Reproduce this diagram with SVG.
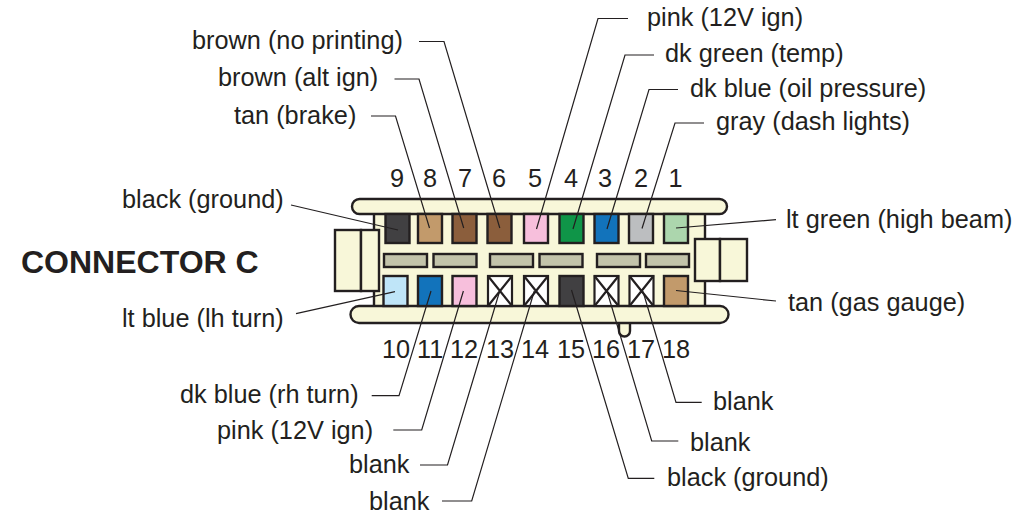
<svg xmlns="http://www.w3.org/2000/svg" width="1016" height="516" viewBox="0 0 1016 516">
<style>
text{font-family:"Liberation Sans",Arial,sans-serif;font-size:25.3px;fill:#231f20}
.b{fill:#f8f7d9;stroke:#231f20;stroke-width:2.4}
.p{stroke:#231f20;stroke-width:2.4}
.m{fill:#c2c3aa;stroke:#231f20;stroke-width:2.4}
.x{fill:#fff;stroke:#231f20;stroke-width:2.2}
#connectors path{fill:none;stroke:#231f20;stroke-width:1.2}
</style>
<rect width="1016" height="516" fill="#fff"/>
<g id="connector-body">
<path class="b" d="M619 320V331a5.500 5.500 0 0 0 11 0V320Z"/>
<rect class="b" x="374" y="212" width="331" height="96"/>
<rect class="b" x="335" y="230" width="26" height="61"/>
<rect class="b" x="361" y="230" width="18" height="61"/>
<rect class="b" x="695" y="239" width="25" height="42"/>
<rect class="b" x="720" y="239" width="27" height="42"/>
<rect class="b" x="352" y="199" width="375" height="15" rx="7.500"/>
<rect class="b" x="350.500" y="306" width="378" height="17" rx="8.500"/>
<rect class="m" x="384" y="254" width="43" height="13"/>
<rect class="m" x="433.500" y="254" width="43" height="13"/>
<rect class="m" x="490" y="254" width="43" height="13"/>
<rect class="m" x="539.500" y="254" width="43" height="13"/>
<rect class="m" x="597" y="254" width="43" height="13"/>
<rect class="m" x="646" y="254" width="43" height="13"/>
</g>
<g id="pins-top">
<rect id="pin9" class="p" fill="#414042" x="385.500" y="214" width="24" height="29"/>
<rect id="pin8" class="p" fill="#c29a6b" x="418" y="214" width="24" height="29"/>
<rect id="pin7" class="p" fill="#8b5e3c" x="452.500" y="214" width="24" height="29"/>
<rect id="pin6" class="p" fill="#8b5e3c" x="487.500" y="214" width="24" height="29"/>
<rect id="pin5" class="p" fill="#f7bfdc" x="524" y="214" width="24" height="29"/>
<rect id="pin4" class="p" fill="#0f9548" x="559.500" y="214" width="24" height="29"/>
<rect id="pin3" class="p" fill="#1273bb" x="594.500" y="214" width="24" height="29"/>
<rect id="pin2" class="p" fill="#bcbec0" x="629" y="214" width="24" height="29"/>
<rect id="pin1" class="p" fill="#acd6ad" x="664" y="214" width="24" height="29"/>
</g>
<g id="pins-bottom">
<rect id="pin10" class="p" fill="#bfe5f8" x="383.500" y="276" width="24" height="30"/>
<rect id="pin11" class="p" fill="#1273bb" x="418" y="276" width="24" height="30"/>
<rect id="pin12" class="p" fill="#f7bfdc" x="452.500" y="276" width="24" height="30"/>
<g id="pin13"><rect class="x" x="488" y="276" width="24" height="30"/><path class="x" d="M488 276L512 306M512 276L488 306"/></g>
<g id="pin14"><rect class="x" x="524" y="276" width="24" height="30"/><path class="x" d="M524 276L548 306M548 276L524 306"/></g>
<rect id="pin15" class="p" fill="#414042" x="559.500" y="276" width="24" height="30"/>
<g id="pin16"><rect class="x" x="594.500" y="276" width="24" height="30"/><path class="x" d="M594.500 276L618.500 306M618.500 276L594.500 306"/></g>
<g id="pin17"><rect class="x" x="629.500" y="276" width="24" height="30"/><path class="x" d="M629.500 276L653.500 306M653.500 276L629.500 306"/></g>
<rect id="pin18" class="p" fill="#c29a6b" x="664" y="276" width="24" height="30"/>
</g>
<g id="connectors">
<path d="M419 41.500H444L499.800 228"/>
<path d="M394.500 79H419L463.700 228"/>
<path d="M371 116H395.500L429.500 228"/>
<path d="M291 205L398 230"/>
<path d="M628 18.500H598L536.500 229"/>
<path d="M654 55H625L573 229"/>
<path d="M678 89.500H649L607 229"/>
<path d="M704 123H675L642 228.500"/>
<path d="M776 219.700L676 228"/>
<path d="M296 313.600L395 291.700"/>
<path d="M371.700 395.700H399L431 291"/>
<path d="M393.300 430H421.700L463.400 291"/>
<path d="M420 465H447.500L499.700 291"/>
<path d="M442 501H471.700L534.300 291"/>
<path d="M654.300 478.300H628.300L571.500 290"/>
<path d="M678.300 441H651.700L607 291"/>
<path d="M701.700 402.300H676L643 291.500"/>
<path d="M776 301L676 290.500"/>
</g>
<g id="labels">
<text x="192" y="48.700">brown (no printing)</text>
<text x="218" y="85.700">brown (alt ign)</text>
<text x="234" y="123.700">tan (brake)</text>
<text x="122" y="207.700">black (ground)</text>
<text x="647" y="25.700">pink (12V ign)</text>
<text x="665" y="61.700">dk green (temp)</text>
<text x="690" y="96.700">dk blue (oil pressure)</text>
<text x="716" y="129.700">gray (dash lights)</text>
<text x="786" y="227.700">lt green (high beam)</text>
<text x="788" y="310.700">tan (gas gauge)</text>
<text x="122" y="326.700">lt blue (lh turn)</text>
<text x="180" y="402.700">dk blue (rh turn)</text>
<text x="217" y="438.700">pink (12V ign)</text>
<text x="349" y="472.700">blank</text>
<text x="369" y="509.700">blank</text>
<text x="667" y="485.700">black (ground)</text>
<text x="690" y="450.700">blank</text>
<text x="713" y="409.700">blank</text>
<text x="21" y="272.500" style="font-size:32px;font-weight:bold">CONNECTOR C</text>
<text x="390" y="186.500">9</text><text x="423" y="186.500">8</text><text x="458" y="186.500">7</text><text x="492" y="186.500">6</text><text x="528" y="186.500">5</text><text x="564" y="186.500">4</text><text x="598" y="186.500">3</text><text x="634" y="186.500">2</text><text x="668.500" y="186.500">1</text>
<text x="382" y="357.500">10</text><text x="417" y="357.500">11</text><text x="450" y="357.500">12</text><text x="486" y="357.500">13</text><text x="521" y="357.500">14</text><text x="557" y="357.500">15</text><text x="592" y="357.500">16</text><text x="627" y="357.500">17</text><text x="662" y="357.500">18</text>
</g>
</svg>
